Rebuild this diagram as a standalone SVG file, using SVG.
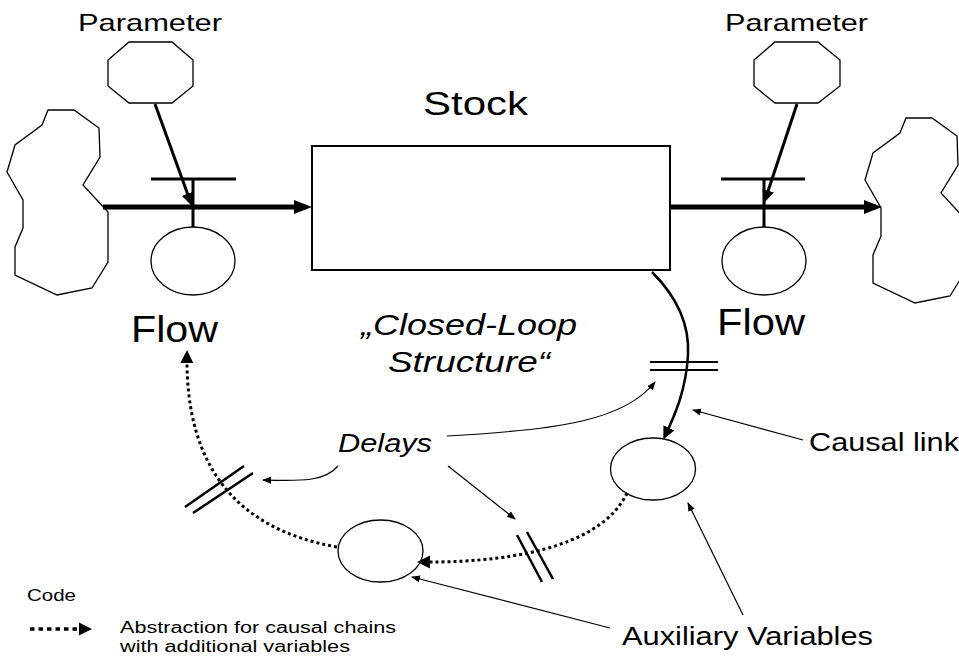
<svg xmlns="http://www.w3.org/2000/svg" width="959" height="659" viewBox="0 0 959 659">
<style>
text{font-family:"Liberation Sans",Arial,sans-serif;fill:#000}
.it{font-style:italic}
.shape{fill:#fff;stroke:#000;stroke-width:1.3}
.flow{fill:none;stroke:#000;stroke-width:5}
.valve{fill:none;stroke:#000;stroke-width:3}
.par{fill:none;stroke:#000;stroke-width:3}
.thin{fill:none;stroke:#000;stroke-width:1.2}
.dot{fill:none;stroke:#000;stroke-width:3;stroke-dasharray:3 3}
.mark{fill:none;stroke:#000;stroke-width:2.5}
</style>
<defs>
<marker id="mFlow" markerUnits="userSpaceOnUse" markerWidth="20" markerHeight="16" refX="12" refY="8" orient="auto"><path d="M0,1 L18,8 L0,15 z" fill="#000"/></marker>
<marker id="mPar" markerUnits="userSpaceOnUse" markerWidth="14" markerHeight="12" refX="9" refY="6" orient="auto"><path d="M0,0 L13,6 L0,12 z" fill="#000"/></marker>
<marker id="mDot" markerUnits="userSpaceOnUse" markerWidth="14" markerHeight="14" refX="9" refY="7" orient="auto"><path d="M0,0.5 L13,7 L0,13.5 z" fill="#000"/></marker>
<marker id="mThin" markerUnits="userSpaceOnUse" markerWidth="10" markerHeight="8" refX="8" refY="3.5" orient="auto"><path d="M0,0 L9,3.5 L0,7 z" fill="#000"/></marker>
<polygon id="cloudShape" points="48,110 74,110 99,128 100,157 83,185 108,212 108,262 92,288 57,295 15,275 15,247 23,228 23,200 7,172 15,145 42,125"/>
</defs>

<g id="cloud-left"><use href="#cloudShape" class="shape"/></g>
<g id="cloud-right"><use href="#cloudShape" class="shape" transform="translate(858,8)"/></g>

<g id="stock">
<rect x="312" y="146" width="358" height="124" fill="#fff" stroke="#000" stroke-width="2"/>
<text x="423" y="115" font-size="33" textLength="105" lengthAdjust="spacingAndGlyphs">Stock</text>
</g>

<g id="parameter-left">
<polygon class="shape" points="129,42 172,42 193,60 193,86 172,103 129,103 108,86 108,60"/>
<text x="78" y="31" font-size="24" textLength="144" lengthAdjust="spacingAndGlyphs">Parameter</text>
</g>
<g id="parameter-right">
<polygon class="shape" points="775,42 818,42 840,60 840,86 818,103 775,103 754,86 754,60"/>
<text x="725" y="31" font-size="24" textLength="143" lengthAdjust="spacingAndGlyphs">Parameter</text>
</g>

<g id="flow-left">
<line class="valve" x1="151" y1="179" x2="236" y2="179"/>
<line class="valve" x1="193" y1="179" x2="193" y2="227"/>
<ellipse class="shape" cx="193" cy="261" rx="42" ry="34"/>
<text x="131" y="342" font-size="36" textLength="87" lengthAdjust="spacingAndGlyphs">Flow</text>
</g>
<g id="flow-right">
<line class="valve" x1="721" y1="179" x2="805" y2="179"/>
<line class="valve" x1="764" y1="179" x2="764" y2="227"/>
<ellipse class="shape" cx="764" cy="261" rx="42" ry="34"/>
<text x="717" y="335" font-size="36" textLength="88" lengthAdjust="spacingAndGlyphs">Flow</text>
</g>

<g id="aux-right"><ellipse class="shape" cx="653" cy="469" rx="42.5" ry="31"/></g>
<g id="aux-lower"><ellipse class="shape" cx="380.5" cy="551" rx="42.5" ry="31"/></g>

<g id="labels">
<text class="it" x="361" y="335" font-size="30" textLength="216" lengthAdjust="spacingAndGlyphs">„Closed-Loop</text>
<text class="it" x="388" y="372" font-size="30" textLength="162" lengthAdjust="spacingAndGlyphs">Structure“</text>
<text class="it" x="338" y="452" font-size="26" textLength="94" lengthAdjust="spacingAndGlyphs">Delays</text>
<text x="809" y="451" font-size="25" textLength="150" lengthAdjust="spacingAndGlyphs">Causal link</text>
<text x="622" y="645" font-size="25" textLength="251" lengthAdjust="spacingAndGlyphs">Auxiliary Variables</text>
</g>

<g id="legend">
<text x="27" y="601" font-size="16" textLength="49" lengthAdjust="spacingAndGlyphs">Code</text>
<path class="dot" d="M30,629 L88,629" style="stroke-width:3.5;stroke-dasharray:4.5 4" marker-end="url(#mDot)"/>
<text x="120" y="633" font-size="16" textLength="276" lengthAdjust="spacingAndGlyphs">Abstraction for causal chains</text>
<text x="120" y="652" font-size="16" textLength="230" lengthAdjust="spacingAndGlyphs">with additional variables</text>
</g>

<g id="connectors">
<path class="flow" d="M103,207 L306,207" marker-end="url(#mFlow)"/>
<path class="flow" d="M670,207 L876,207" marker-end="url(#mFlow)"/>
<path class="par" d="M155,104 L190.6,202.2" marker-end="url(#mPar)"/>
<path class="par" d="M797,104 L765.3,199.2" marker-end="url(#mPar)"/>
<path class="par" style="stroke-width:2.5" d="M652,272 C672,292 690,320 688,355 C686,390 675,415 665,436" marker-end="url(#mPar)"/>
<path class="dot" d="M627,493 C605,540 530,563 421,562" marker-end="url(#mDot)"/>
<path class="dot" d="M337,547 C240,530 185,470 187,354" marker-end="url(#mDot)"/>
<path class="mark" style="stroke-width:2" d="M650,362 L718,362 M650,370 L718,370"/>
<path class="mark" d="M185,507 L244,466 M193,513 L253,473"/>
<path class="mark" d="M517,535 L542,582 M527,532 L553,579"/>
<path class="thin" d="M338,466 C325,482 300,481 263,480" marker-end="url(#mThin)"/>
<path class="thin" d="M448,466 L515,519" marker-end="url(#mThin)"/>
<path class="thin" d="M447,436 C560,430 625,420 655,382" marker-end="url(#mThin)"/>
<path class="thin" d="M803,440 L693,410" marker-end="url(#mThin)"/>
<path class="thin" d="M743,615 L688,503" marker-end="url(#mThin)"/>
<path class="thin" d="M610,628 L412,577" marker-end="url(#mThin)"/>
</g>
</svg>
